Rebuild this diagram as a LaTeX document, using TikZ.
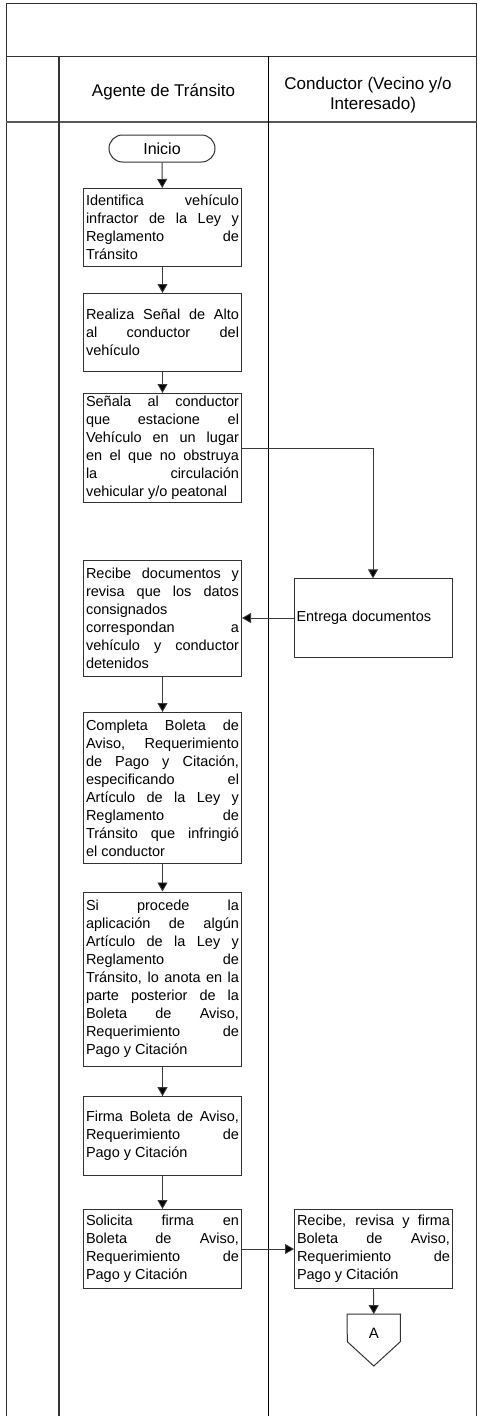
\documentclass[tikz,border=0pt]{standalone}
\usepackage{fontspec}
\setmainfont{Liberation Sans}
\usetikzlibrary{arrows.meta,calc}
\definecolor{boxline}{HTML}{333333}
\definecolor{conline}{HTML}{3A3A3A}
\tolerance=10000
\hbadness=10000
\newcommand\bodysetup{\fontsize{14.5}{18}\selectfont\spaceskip=0.278em plus 0.8em minus 0.15em\relax}
\begin{document}
\begin{tikzpicture}[x=1pt,y=-1pt,
  bodyfont/.style={font=\bodysetup},
  stepbox/.style={draw=boxline,line width=1pt,rectangle,bodyfont,text width=153pt,align=justify,inner xsep=2.5pt,inner ysep=2pt,minimum width=158pt},
  headtext/.style={font=\fontsize{17}{19.5}\selectfont,align=center},
  flow/.style={draw=conline,line width=0.9pt,-{Triangle[width=10pt,length=9pt,fill=black]}},
  lane/.style={draw=black,line width=1pt},
  frame/.style={draw=black!80,line width=1pt}]
\useasboundingbox (0,0) rectangle (478,1416);
% frame and lanes
\draw[frame] (6,1416) -- (6,3.3) -- (476.5,3.3) -- (476.5,1416);
\draw[frame] (6,56) -- (476.5,56);
\draw[frame,draw=black!65,line width=1.2pt] (6,122) -- (476.5,122);
\draw[lane,draw=black!80,line width=1.3pt] (59,56) -- (59,1416);
\draw[lane] (268.3,56) -- (268.3,1416);
% headings
\node[headtext,anchor=base] (h1) at (163.5,96) {Agente de Tránsito};
\node[headtext,anchor=base] (h2a) at (368,89.5) {Conductor (Vecino y/o};
\node[headtext,anchor=base] (h2b) at (373,109) {Interesado)};
% nodes
\node[draw=boxline,line width=1pt,rounded corners=13.5pt,minimum width=106pt,minimum height=27pt,font=\fontsize{16}{18}\selectfont,inner sep=0pt] (ini) at (162,148.5) {Inicio};
\node[stepbox,minimum height=78pt] (b1) at (162.5,227.5) {Identifica vehículo\linebreak infractor de la Ley y\linebreak Reglamento de\linebreak Tránsito};
\node[stepbox,minimum height=78pt] (b2) at (162.5,332.5) {Realiza Señal de Alto\linebreak al conductor del\linebreak vehículo};
\node[stepbox,minimum height=109pt] (b3) at (162.5,448) {Señala al conductor\linebreak que estacione el\linebreak Vehículo en un lugar\linebreak en el que no obstruya\linebreak la circulación\linebreak vehicular y/o peatonal};
\node[stepbox,minimum height=116pt] (b4) at (162.5,618) {Recibe documentos y\linebreak revisa que los datos\linebreak consignados\linebreak correspondan a\linebreak vehículo y conductor\linebreak detenidos};
\node[stepbox,minimum height=151pt] (b5) at (162.5,788) {Completa Boleta de\linebreak Aviso, Requerimiento\linebreak de Pago y Citación,\linebreak especificando el\linebreak Artículo de la Ley y\linebreak Reglamento de\linebreak Tránsito que infringió\linebreak el conductor};
\node[stepbox,minimum height=174pt] (b6) at (162.5,979) {Si procede la\linebreak aplicación de algún\linebreak Artículo de la Ley y\linebreak Reglamento de\linebreak Tránsito, lo anota en la\linebreak parte posterior de la\linebreak Boleta de Aviso,\linebreak Requerimiento de\linebreak Pago y Citación};
\node[stepbox,minimum height=78.6pt] (b7) at (162.5,1136) {Firma Boleta de Aviso,\linebreak Requerimiento de\linebreak Pago y Citación};
\node[stepbox,minimum height=79pt] (b8) at (162.5,1249) {Solicita firma en\linebreak Boleta de Aviso,\linebreak Requerimiento de\linebreak Pago y Citación};
\node[stepbox,align=left,minimum height=78.3pt,minimum width=157.4pt] (ent) at (373,618) {Entrega documentos};
\node[stepbox,minimum height=79pt,minimum width=157.4pt] (b9) at (373.5,1249) {Recibe, revisa y firma\linebreak Boleta de Aviso,\linebreak Requerimiento de\linebreak Pago y Citación};
\node[font=\fontsize{15}{18}\selectfont,minimum width=53pt,minimum height=37.4pt,inner sep=0pt] (aconn) at (373.8,1333) {A};
\draw[draw=boxline,line width=1pt] (aconn.north west) -- (aconn.north east) -- (400.3,1341.7) -- (373.8,1366) -- (347.3,1341.7) -- cycle;
% connectors
\draw[flow] (ini) -- (b1);
\draw[flow] (b1) -- (b2);
\draw[flow] (b2) -- (b3);
\draw[flow] (b3.east) -| (ent.north);
\draw[flow] (ent.west) -- (b4.east);
\draw[flow] (b4) -- (b5);
\draw[flow] (b5) -- (b6);
\draw[flow] (b6) -- (b7);
\draw[flow] (b7) -- (b8);
\draw[flow] (b8.east) -- (b9.west);
\draw[flow] (b9.south) -- (aconn.north);
\end{tikzpicture}
\end{document}
